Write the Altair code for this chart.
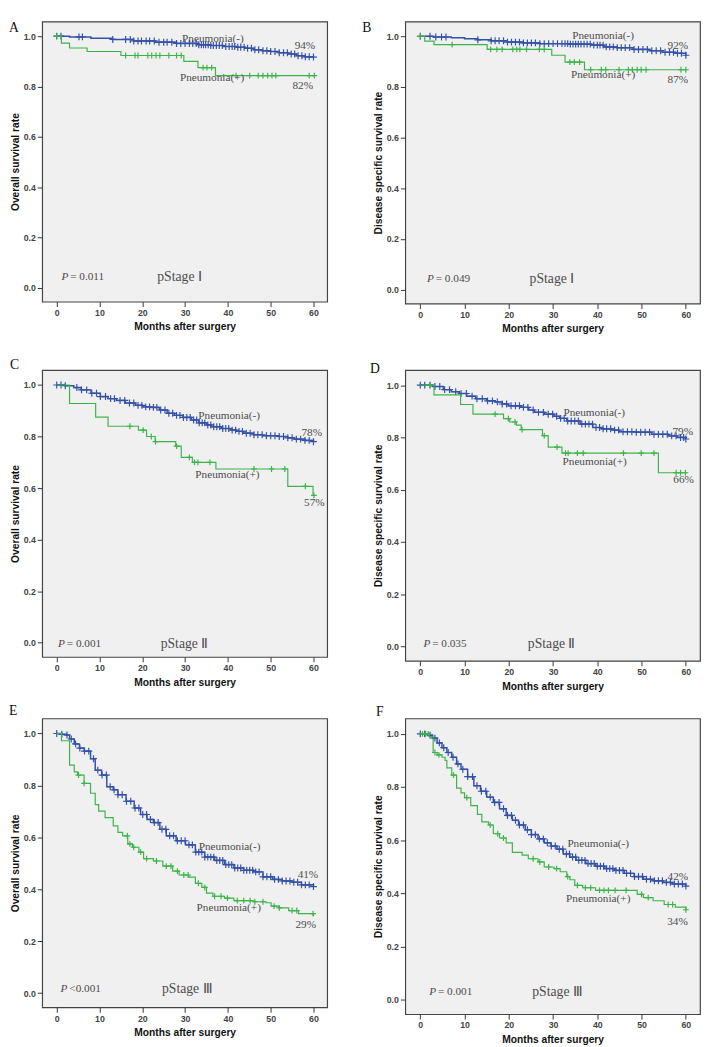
import altair as alt
import pandas as pd

BLUE = "#3451a8"
GREEN = "#3cb44a"
TXT = "#4d4d4d"
SERIF = "Liberation Serif"
SANS = "Liberation Sans"
CROSS = "M-1,0L1,0M0,-1L0,1"

x_ticks = [0, 10, 20, 30, 40, 50, 60]
y_ticks = [0.0, 0.2, 0.4, 0.6, 0.8, 1.0]
X_DOMAIN = [-3.4, 63.2]
Y_DOMAIN = [-0.055, 1.058]

# ---------------- Panel A: OS, pStage I ----------------
A_neg_t = [0, 3, 8, 13, 18, 23, 28, 33, 36, 39, 42, 44, 46, 48, 50, 52, 54, 56, 58, 60]
A_neg_s = [1.0, 0.997, 0.992, 0.987, 0.981, 0.976, 0.971, 0.966, 0.963, 0.959, 0.956, 0.952,
           0.946, 0.942, 0.939, 0.934, 0.929, 0.922, 0.918, 0.917]
A_neg_c = [0, 1, 5.2, 6, 13.1, 16.1, 17.2, 18, 19, 19.8, 20.9, 21.7, 22.8, 23.9, 25, 25.8, 26.9,
           28, 29, 30, 31, 31.8, 32.6, 33.2, 33.8, 34.3, 34.8, 35.4, 36, 36.6, 37.3, 38, 38.7,
           39.5, 40.3, 41, 41.6, 42.3, 43, 43.8, 44.6, 45.5, 46.3, 47.2, 48.2, 49.1, 50, 51, 52,
           53, 53.9, 54.8, 55.6, 56.4, 57.3, 58.1, 59, 60]
A_pos_t = [0, 1.1, 3, 7.1, 15, 29.7, 33, 37.1, 60.2]
A_pos_s = [1.0, 0.972, 0.953, 0.939, 0.923, 0.900, 0.875, 0.843, 0.843]
A_pos_c = [0, 16.1, 18.3, 19, 21.3, 22.2, 23.2, 24.1, 26.2, 28, 29.1, 34.2, 35.1, 36.2, 41.9,
           45.1, 47.1, 48.2, 49.3, 50.3, 51.2, 59, 60.2]

# ---------------- Panel B: DSS, pStage I ----------------
B_neg_t = [0, 3, 7, 10, 13, 16, 19.6, 23, 27, 33.5, 38.6, 41.5, 44.4, 48.1, 51.8, 54.7, 57.6, 60]
B_neg_s = [1.0, 0.997, 0.994, 0.99, 0.986, 0.982, 0.977, 0.974, 0.971, 0.969, 0.965, 0.958,
           0.955, 0.948, 0.943, 0.937, 0.933, 0.925]
B_neg_c = [0, 2.2, 3.5, 4.8, 5.8, 13, 16, 16.9, 17.8, 18.8, 19.7, 20.6, 21.5, 22.4, 23.3, 24.2,
           25.1, 26, 27, 28, 29, 30, 31, 32, 32.7, 33.3, 33.9, 34.5, 35.1, 35.7, 36.3, 37, 37.7,
           38.4, 39.2, 40, 40.6, 41.3, 42, 42.8, 43.6, 44.5, 45.4, 46.3, 47.3, 48.3, 49.3, 50.3,
           51.3, 52.3, 53.3, 54.3, 55.3, 56.3, 57.2, 58.1, 59, 60]
B_pos_t = [0, 1, 3.1, 15.1, 29.7, 32.7, 37.1, 60.2]
B_pos_s = [1.0, 0.981, 0.967, 0.948, 0.925, 0.898, 0.868, 0.868]
B_pos_c = [0, 7.2, 15.9, 17.3, 18.5, 20.9, 21.8, 22.5, 24, 26.9, 28, 33.8, 34.8, 36, 38.5, 40.9,
           41.9, 44.9, 47, 47.9, 49, 49.9, 51, 58.9, 60]

# ---------------- Panel C: OS, pStage II ----------------
C_neg_t = [0, 2, 4, 5.7, 8, 10.2, 12, 13.9, 16, 18.4, 20, 22.1, 24, 25.8, 27.5, 29.5, 31.5, 33.2,
           35, 36.2, 38.5, 40.7, 42, 43.6, 46, 48.1, 51.8, 54, 55.5, 58, 60]
C_neg_s = [1.0, 0.997, 0.99, 0.981, 0.968, 0.955, 0.947, 0.94, 0.93, 0.921, 0.915, 0.913, 0.903,
           0.89, 0.882, 0.874, 0.864, 0.853, 0.845, 0.838, 0.831, 0.825, 0.82, 0.813, 0.807,
           0.803, 0.80, 0.795, 0.79, 0.785, 0.78]
C_neg_c = [0, 1, 2, 4.7, 5.8, 7, 8.2, 9.3, 10.2, 11.4, 12.6, 13.5, 14.8, 15.9, 17, 18, 19, 19.9,
           20.8, 21.7, 22.6, 23.4, 24.3, 25.3, 26.2, 27.1, 28, 28.8, 29.6, 30.4, 31.2, 32, 32.7,
           33.3, 34, 34.6, 35.3, 36, 36.7, 37.4, 38.1, 38.8, 39.5, 40.2, 41, 41.8, 42.6, 43.4,
           44.3, 45.2, 46.1, 47, 48, 49, 50, 51, 52, 53, 54, 55, 56, 57, 58, 59, 60]
C_pos_t = [0, 3, 9.1, 12, 19.1, 21, 23, 27.8, 29.1, 31.7, 37.2, 54, 59.9, 60.2]
C_pos_s = [1.0, 0.928, 0.875, 0.84, 0.825, 0.80, 0.78, 0.763, 0.719, 0.70, 0.674, 0.607, 0.572, 0.572]
C_pos_c = [17.1, 20.2, 22.1, 23.1, 28, 31, 32.2, 33, 35.8, 46.1, 50.2, 53.3, 58.1, 60.1]

# ---------------- Panel D: DSS, pStage II ----------------
D_neg_t = [0, 2.9, 5.2, 7, 8.8, 10.5, 12.5, 15, 16.9, 18.5, 19.9, 22.8, 24.5, 25.8, 28, 30.2,
           31.5, 33.1, 36.1, 39, 41, 43.4, 44.9, 48.6, 52.3, 56, 58, 60]
D_neg_s = [1.0, 0.995, 0.983, 0.975, 0.968, 0.958, 0.948, 0.94, 0.936, 0.928, 0.921, 0.915,
           0.905, 0.896, 0.889, 0.881, 0.873, 0.863, 0.851, 0.838, 0.833, 0.828, 0.822, 0.82,
           0.812, 0.806, 0.80, 0.794]
D_neg_c = [0, 1, 2.2, 3.3, 4.4, 5.5, 6.6, 8, 9.2, 10.4, 11.7, 12.8, 14, 15.2, 16.3, 17.4, 18.5,
           19.5, 20.5, 21.5, 22.4, 23.3, 24.3, 25.5, 26.7, 27.8, 28.9, 29.9, 30.8, 31.7, 32.5,
           33.3, 34.1, 34.9, 35.7, 36.5, 37.3, 38.1, 38.9, 39.7, 40.5, 41.3, 42.1, 43, 43.9,
           44.8, 45.8, 46.8, 47.8, 48.8, 49.8, 50.8, 51.8, 52.8, 53.8, 54.8, 55.8, 56.8, 57.8,
           58.8, 59.5, 60]
D_pos_t = [0, 3.1, 9.1, 11.9, 18.8, 20.2, 21.7, 22.8, 27.6, 28.9, 32, 53.8, 60.2]
D_pos_s = [1.0, 0.963, 0.926, 0.889, 0.872, 0.859, 0.847, 0.83, 0.807, 0.763, 0.74, 0.665, 0.665]
D_pos_c = [2.1, 16.9, 19.9, 21.4, 23, 28, 30.9, 32.8, 33.4, 35.5, 36.8, 45.9, 49.9, 52.8, 57.8,
           58.8, 59.9]

# ---------------- Panel E: OS, pStage III ----------------
E_neg_t = [0, 1.1, 2.3, 3, 4.1, 5.3, 6.4, 7.9, 9, 10.5, 11.7, 13.2, 14.3, 16.2, 18.1, 19.6, 21.1,
           22.6, 24.1, 25.6, 27.9, 30.1, 32.4, 34.6, 36.9, 39.2, 41.4, 43.7, 45.9, 48.2, 50.5,
           52.7, 55, 57.2, 60]
E_neg_s = [1.0, 0.997, 0.994, 0.979, 0.96, 0.944, 0.932, 0.903, 0.859, 0.84, 0.795, 0.783, 0.764,
           0.739, 0.713, 0.688, 0.669, 0.657, 0.631, 0.606, 0.587, 0.571, 0.543, 0.524, 0.511,
           0.495, 0.482, 0.473, 0.467, 0.448, 0.438, 0.432, 0.427, 0.417, 0.41]
E_neg_c = [0, 1.2, 2.4, 3.4, 4.4, 5.4, 6.5, 7.5, 8.6, 9.6, 10.6, 11.6, 12.5, 13.4, 14.3, 15.3,
           16.3, 17.3, 18.3, 19.2, 20.1, 21, 21.9, 22.8, 23.7, 24.6, 25.5, 26.4, 27.3, 28.2, 29.1,
           30, 30.9, 31.7, 32.5, 33.2, 33.9, 34.6, 35.3, 36, 36.7, 37.4, 38.1, 38.8, 39.5, 40.2,
           40.9, 41.6, 42.3, 43, 43.7, 44.4, 45.1, 45.8, 46.5, 47.3, 48.2, 49.1, 50, 50.9, 51.8,
           52.7, 53.6, 54.5, 55.4, 56.3, 57.2, 58.1, 59, 60]
E_pos_t = [0, 1.1, 3, 4.1, 4.9, 6.4, 7.9, 9, 9.8, 11.3, 13.2, 14.3, 15.4, 16.6, 17.7, 19.2, 20.3,
           22.6, 24.8, 27.1, 28.6, 30.9, 32.4, 33.9, 35, 36.5, 39.2, 41.4, 45.9, 48.9, 50.1, 52,
           54.2, 56.5, 60]
E_pos_s = [1.0, 0.972, 0.878, 0.852, 0.84, 0.808, 0.77, 0.726, 0.701, 0.676, 0.644, 0.619, 0.606,
           0.575, 0.562, 0.543, 0.518, 0.509, 0.489, 0.47, 0.455, 0.447, 0.423, 0.407, 0.385,
           0.373, 0.366, 0.356, 0.352, 0.348, 0.335, 0.328, 0.318, 0.306, 0.297]
E_pos_c = [5.1, 6.4, 16.5, 17.1, 18, 19.6, 21, 23.3, 25.6, 26.7, 28.2, 29.7, 30.7, 33.1, 34.6,
           36.9, 38.4, 39.9, 42.2, 43.7, 45.2, 46.3, 48.2, 50.8, 52, 55, 56.1, 59.9]

# ---------------- Panel F: DSS, pStage III ----------------
F_neg_t = [0, 1.7, 2.7, 3.8, 4.9, 6, 7.1, 8.2, 9.2, 10.7, 12.1, 13.6, 15, 16.5, 17.9, 19.4, 20.8,
           22.2, 23.7, 25.1, 26.6, 28, 29.5, 30.9, 32.3, 33.8, 35.2, 37.4, 39.6, 41.7, 43.9, 46.1,
           48.3, 50.4, 52.6, 54.8, 56.9, 60]
F_neg_s = [1.0, 0.995, 0.984, 0.966, 0.948, 0.93, 0.912, 0.887, 0.867, 0.839, 0.805, 0.784,
           0.762, 0.742, 0.718, 0.693, 0.675, 0.657, 0.639, 0.621, 0.605, 0.59, 0.578, 0.566,
           0.548, 0.536, 0.524, 0.512, 0.502, 0.493, 0.486, 0.475, 0.463, 0.453, 0.447, 0.441,
           0.435, 0.427]
F_neg_c = [0, 1, 2.2, 3.3, 4.3, 5.3, 6.3, 7.4, 8.5, 9.6, 10.7, 11.8, 12.8, 13.8, 14.8, 15.8,
           16.8, 17.8, 18.8, 19.7, 20.6, 21.5, 22.4, 23.3, 24.2, 25.1, 26, 26.9, 27.8, 28.7, 29.6,
           30.5, 31.4, 32.2, 33, 33.7, 34.4, 35.1, 35.8, 36.5, 37.2, 37.9, 38.6, 39.3, 40, 40.7,
           41.4, 42.1, 42.8, 43.5, 44.2, 45, 45.8, 46.6, 47.5, 48.4, 49.3, 50.2, 51.1, 52, 52.9,
           53.8, 54.7, 55.6, 56.5, 57.4, 58.3, 59.2, 60]
F_pos_t = [0, 2.0, 2.9, 3.8, 4.9, 5.6, 6, 7.1, 8.2, 9.2, 10, 11.4, 12.9, 13.9, 15.4, 16.5, 17.9,
           19.4, 20.8, 23, 24.4, 26.6, 28, 30.2, 31.6, 33.1, 33.8, 34.9, 36.7, 39.6, 49, 50.4,
           52.6, 55.1, 57.6, 60]
F_pos_s = [1.0, 0.99, 0.93, 0.921, 0.912, 0.9, 0.872, 0.845, 0.796, 0.778, 0.76, 0.73, 0.697,
           0.669, 0.657, 0.624, 0.608, 0.59, 0.554, 0.544, 0.53, 0.518, 0.499, 0.493, 0.481,
           0.463, 0.451, 0.43, 0.421, 0.411, 0.396, 0.384, 0.372, 0.358, 0.348, 0.338]
F_pos_c = [0.5, 1.2, 1.8, 3.3, 4.2, 7.5, 10.5, 15.8, 17.5, 18.8, 25.5, 27, 29, 30.8, 33.3, 35.5,
           37.3, 38.5, 40.5, 41.5, 42.5, 44, 46.5, 50, 51.5, 56, 57, 60]

# ---------------- Annotations ----------------
group_labels = ["Pneumonia(-)", "Pneumonia(+)"]
A_pct = ["94%", "82%"]
B_pct = ["92%", "87%"]
C_pct = ["78%", "57%"]
D_pct = ["79%", "66%"]
E_pct = ["41%", "29%"]
F_pct = ["42%", "34%"]
# positions of [label(-), pct(-), label(+), pct(+)]
A_ann_x = [36.5, 58.0, 36.3, 57.5]
A_ann_y = [0.99, 0.962, 0.834, 0.802]
B_ann_x = [41.3, 58.2, 41.3, 58.2]
B_ann_y = [1.0, 0.962, 0.845, 0.829]
C_ann_x = [40.3, 59.6, 39.9, 60.2]
C_ann_y = [0.878, 0.813, 0.65, 0.541]
D_ann_x = [39.3, 59.3, 39.4, 59.5]
D_ann_y = [0.894, 0.822, 0.707, 0.635]
E_ann_x = [40.4, 58.7, 40.2, 58.2]
E_ann_y = [0.564, 0.455, 0.328, 0.263]
F_ann_x = [40.2, 58.2, 40.2, 58.1]
F_ann_y = [0.584, 0.462, 0.378, 0.293]

p_texts = ["= 0.011", "= 0.049", "= 0.001", "= 0.035", "<0.001", "= 0.001"]
p_x = [1.1, 1.5, 0.3, 0.7, 0.9, 2.0]
p_y = [0.043, 0.043, -0.005, 0.01, 0.016, 0.03]
stage_texts = ["pStage \u2160", "pStage \u2160", "pStage \u2161", "pStage \u2161",
               "pStage \u2162", "pStage \u2162"]
stage_x = [23.5, 24.7, 24.3, 24.3, 24.6, 25.3]
letters = ["A", "B", "C", "D", "E", "F"]
y_titles = ["Overall survival rate", "Disease specific survival rate"] * 3


def km_frame(ts, ss):
    return pd.DataFrame({"t": ts, "s": ss})


def censor_frame(ts, ss, cs):
    ys = []
    for c in cs:
        v = ss[0]
        for t, s in zip(ts, ss):
            if t <= c:
                v = s
            else:
                break
        ys.append(v)
    return pd.DataFrame({"t": cs, "s": ys})


def panel(i, neg, pos, pct, ann_x, ann_y, w, h, let_dx, let_dy):
    xs = alt.X("t:Q", scale=alt.Scale(domain=X_DOMAIN, nice=False, zero=False),
               axis=alt.Axis(values=x_ticks, title="Months after surgery", format="d"))
    ys = alt.Y("s:Q", scale=alt.Scale(domain=Y_DOMAIN, nice=False, zero=False),
               axis=alt.Axis(values=y_ticks, title=y_titles[i], format=".1f"))
    layers = []
    for (ts, ss, cs), col, sw, sz in [(neg, BLUE, 1.5, 50), (pos, GREEN, 1.2, 36)]:
        layers.append(alt.Chart(km_frame(ts, ss)).mark_line(
            interpolate="step-after", color=col, strokeWidth=sw).encode(x=xs, y=ys))
        layers.append(alt.Chart(censor_frame(ts, ss, cs)).mark_point(
            shape=CROSS, filled=False, color=col, size=sz, strokeWidth=1.2,
            opacity=1).encode(x=xs, y=ys))
    txt = [group_labels[0], pct[0], group_labels[1], pct[1]]
    ann = pd.DataFrame({"t": ann_x, "s": ann_y, "txt": txt})
    layers.append(alt.Chart(ann).mark_text(
        font=SERIF, fontSize=11.5, color=TXT, align="center", baseline="middle").encode(
        x=xs, y=ys, text="txt:N"))
    pdf = pd.DataFrame({"t": [p_x[i]], "s": [p_y[i]]})
    layers.append(alt.Chart(pdf).mark_text(
        text="P", font=SERIF, fontStyle="italic", fontSize=11.5, color=TXT,
        align="left", baseline="middle").encode(x=xs, y=ys))
    layers.append(alt.Chart(pdf).mark_text(
        text=p_texts[i], font=SERIF, fontSize=11.5, color=TXT, dx=9,
        align="left", baseline="middle").encode(x=xs, y=ys))
    sdf = pd.DataFrame({"t": [stage_x[i]], "s": [p_y[i]]})
    layers.append(alt.Chart(sdf).mark_text(
        text=stage_texts[i], font=SERIF, fontSize=14, color=TXT,
        align="left", baseline="middle").encode(x=xs, y=ys))
    layers.append(alt.Chart(pd.DataFrame({"k": [0]})).mark_text(
        text=letters[i], font=SERIF, fontSize=14, color="#111",
        align="left", baseline="top").encode(x=alt.value(let_dx), y=alt.value(let_dy)))
    return alt.layer(*layers).properties(width=w, height=h)


pA = panel(0, (A_neg_t, A_neg_s, A_neg_c), (A_pos_t, A_pos_s, A_pos_c), A_pct, A_ann_x, A_ann_y, 292, 287, -34, 0)
pB = panel(1, (B_neg_t, B_neg_s, B_neg_c), (B_pos_t, B_pos_s, B_pos_c), B_pct, B_ann_x, B_ann_y, 302, 289, -44, 0)
pC = panel(2, (C_neg_t, C_neg_s, C_neg_c), (C_pos_t, C_pos_s, C_pos_c), C_pct, C_ann_x, C_ann_y, 292, 294, -33, -12)
pD = panel(3, (D_neg_t, D_neg_s, D_neg_c), (D_pos_t, D_pos_s, D_pos_c), D_pct, D_ann_x, D_ann_y, 302, 298, -36, -8)
pE = panel(4, (E_neg_t, E_neg_s, E_neg_c), (E_pos_t, E_pos_s, E_pos_c), E_pct, E_ann_x, E_ann_y, 292, 296, -34, -15)
pF = panel(5, (F_neg_t, F_neg_s, F_neg_c), (F_pos_t, F_pos_s, F_pos_c), F_pct, F_ann_x, F_ann_y, 302, 303, -30, -14)

chart = alt.concat(
    pA, pB, pC, pD, pE, pF, columns=2, spacing={"row": 54, "column": 70},
    bounds="flush", align="all"
).properties(
    padding=0, background="white"
).configure_view(
    fill="#f0f0f0", stroke="#444444", strokeWidth=1.2
).configure_axis(
    grid=False, domain=False, tickSize=5, tickColor="#333333", tickWidth=1,
    labelFont=SANS, labelFontSize=9, labelFontWeight="bold", labelColor="#444444",
    labelPadding=2, titleFont=SANS, titleFontSize=10.5, titleFontWeight="bold",
    titleColor="#111111", titlePadding=3
).configure_axisX(titlePadding=5)

chart.save("out.html", embed_options={"renderer": "svg", "actions": False})
